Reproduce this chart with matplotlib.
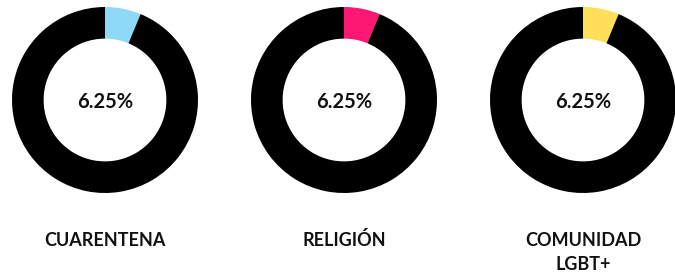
import matplotlib
matplotlib.use("Agg")
import matplotlib.pyplot as plt

categories = ["CUARENTENA", "RELIGIÓN", "COMUNIDAD\nLGBT+"]
values = [6.25, 6.25, 6.25]
center_labels = ["6.25%", "6.25%", "6.25%"]
colors = ["#8ed8f8", "#ff1774", "#ffdf5a"]
rest_color = "#000000"

plt.rcParams['font.family'] = ['Lato', 'DejaVu Sans']

W, H = 675, 275
fig = plt.figure(figsize=(W / 100, H / 100), dpi=100)
fig.patch.set_facecolor("white")

centers_x = [105, 344, 583]
cy = 100
r = 93
label_baselines = [246, 270]

for i, (cat, v, lab, col) in enumerate(zip(categories, values, center_labels, colors)):
    cx = centers_x[i]
    ax = fig.add_axes([(cx - r) / W, (H - cy - r) / H, 2 * r / W, 2 * r / H])
    ax.pie([v, 100 - v], colors=[col, rest_color], startangle=90, counterclock=False,
           radius=1.0, wedgeprops=dict(width=0.34, edgecolor="none"))
    ax.set_xlim(-1, 1)
    ax.set_ylim(-1, 1)
    ax.set_aspect("equal")
    ax.axis("off")
    ax.text(0, -8 / r, lab, ha="center", va="baseline", fontsize=14.5,
            fontweight="bold", color="#111111")
    for j, line in enumerate(cat.split("\n")):
        fig.text(cx / W, (H - label_baselines[j]) / H, line, ha="center", va="baseline",
                 fontsize=13, fontweight="bold", color="#111111")

fig.savefig("out.png", dpi=100, facecolor="white")
